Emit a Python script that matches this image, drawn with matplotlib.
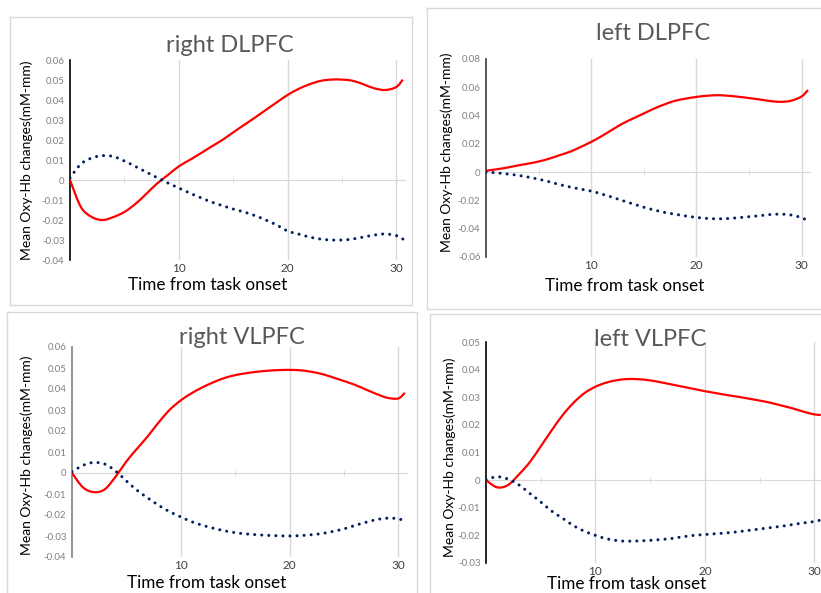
import matplotlib
matplotlib.use('Agg')
import matplotlib.pyplot as plt
from matplotlib.patches import PathPatch
from matplotlib.lines import Line2D
from matplotlib.path import Path

plt.rcParams['font.family'] = ['Lato', 'DejaVu Sans']

W, H = 821, 593

# tiempo (s) desde el inicio de la tarea
tiempo = [0, 1, 2, 3, 4, 5, 6, 7, 8, 9, 10, 11, 12, 13, 14, 15, 16, 17, 18, 19,
          20, 21, 22, 23, 24, 25, 26, 27, 28, 29, 30, 30.6]

titulos = ['right DLPFC', 'left DLPFC', 'right VLPFC', 'left VLPFC']

# Oxy-Hb (linea roja) y serie punteada (azul) por region
rojo_rdlpfc = [0, -0.0135, -0.0185, -0.0200, -0.0185, -0.0160, -0.0120, -0.0070, -0.0018, 0.0025,
               0.0068, 0.0100, 0.0133, 0.0167, 0.0200, 0.0238, 0.0275, 0.0312, 0.0350, 0.0388,
               0.0425, 0.0455, 0.0478, 0.0495, 0.0502, 0.0502, 0.0496, 0.0478, 0.0458, 0.0450,
               0.0465, 0.0502]
azul_rdlpfc = [0.001, 0.008, 0.011, 0.0122, 0.0117, 0.0095, 0.0068, 0.0040, 0.0012, -0.0015,
               -0.0040, -0.0065, -0.0088, -0.0110, -0.0128, -0.0145, -0.0160, -0.0178, -0.0200, -0.0225,
               -0.0255, -0.0270, -0.0285, -0.0295, -0.0300, -0.0300, -0.0295, -0.0285, -0.0275, -0.0270,
               -0.0278, -0.0295]

rojo_ldlpfc = [0.001, 0.002, 0.0032, 0.0047, 0.0060, 0.0075, 0.0095, 0.0120, 0.0145, 0.0178,
               0.0214, 0.0255, 0.0300, 0.0344, 0.0380, 0.0415, 0.0450, 0.0480, 0.0505, 0.0520,
               0.0532, 0.0540, 0.0544, 0.0540, 0.0533, 0.0524, 0.0514, 0.0503, 0.0497, 0.0505,
               0.0535, 0.0580]
azul_ldlpfc = [0, -0.0005, -0.0013, -0.0022, -0.0035, -0.0050, -0.0068, -0.0088, -0.0105, -0.0120,
               -0.0134, -0.0155, -0.0177, -0.0202, -0.0225, -0.0248, -0.0268, -0.0285, -0.0298, -0.0310,
               -0.0320, -0.0327, -0.0330, -0.0328, -0.0322, -0.0315, -0.0308, -0.0300, -0.0297, -0.0303,
               -0.0322, -0.0344]

rojo_rvlpfc = [0, -0.0068, -0.0091, -0.0078, -0.0018, 0.0055, 0.0117, 0.0177, 0.0243, 0.0302,
               0.0346, 0.0380, 0.0408, 0.0432, 0.0452, 0.0466, 0.0475, 0.0482, 0.0487, 0.0490,
               0.0491, 0.0489, 0.0482, 0.0471, 0.0455, 0.0438, 0.0420, 0.0398, 0.0376, 0.0358,
               0.0355, 0.0382]
azul_rvlpfc = [0.0006, 0.0036, 0.0050, 0.0043, 0.0010, -0.0038, -0.0083, -0.0120, -0.0155, -0.0185,
               -0.0209, -0.0232, -0.0249, -0.0263, -0.0275, -0.0284, -0.0290, -0.0294, -0.0297, -0.0299,
               -0.0300, -0.0298, -0.0294, -0.0288, -0.0278, -0.0266, -0.0250, -0.0235, -0.0222, -0.0215,
               -0.0218, -0.0230]

rojo_lvlpfc = [0, -0.0026, -0.0018, 0.0020, 0.0065, 0.0122, 0.0180, 0.0235, 0.0280, 0.0315,
               0.0338, 0.0353, 0.0362, 0.0366, 0.0365, 0.0361, 0.0354, 0.0346, 0.0338, 0.0330,
               0.0322, 0.0315, 0.0308, 0.0302, 0.0295, 0.0288, 0.0280, 0.0270, 0.0260, 0.0248,
               0.0238, 0.0236]
azul_lvlpfc = [0.0002, 0.0012, 0.0004, -0.0017, -0.0048, -0.0079, -0.0112, -0.0138, -0.0165, -0.0185,
               -0.0200, -0.0212, -0.0219, -0.0221, -0.0220, -0.0218, -0.0215, -0.0211, -0.0205, -0.0200,
               -0.0197, -0.0194, -0.0191, -0.0187, -0.0182, -0.0177, -0.0172, -0.0167, -0.0161, -0.0155,
               -0.0150, -0.0144]

yticks_rdlpfc = [-0.04, -0.03, -0.02, -0.01, 0, 0.01, 0.02, 0.03, 0.04, 0.05, 0.06]
yticks_ldlpfc = [-0.06, -0.04, -0.02, 0, 0.02, 0.04, 0.06, 0.08]
yticks_rvlpfc = [-0.04, -0.03, -0.02, -0.01, 0, 0.01, 0.02, 0.03, 0.04, 0.05, 0.06]
yticks_lvlpfc = [-0.03, -0.02, -0.01, 0, 0.01, 0.02, 0.03, 0.04, 0.05]
xticks = [10, 20, 30]
xticks_menores = [5, 15, 25]

rojos = [rojo_rdlpfc, rojo_ldlpfc, rojo_rvlpfc, rojo_lvlpfc]
azules = [azul_rdlpfc, azul_ldlpfc, azul_rvlpfc, azul_lvlpfc]
yticks = [yticks_rdlpfc, yticks_ldlpfc, yticks_rvlpfc, yticks_lvlpfc]

# posiciones en pixeles: (izq, arriba, der, abajo)
ejes_px = [(70, 60, 405, 260), (486, 59, 810, 257), (72, 347, 407, 557), (486, 342, 823, 563)]
titulo_px = [(230, 45), (653, 33), (242, 337), (650, 340)]
xlabel_px = [(208, 285), (625, 286), (207, 583), (627, 584)]
ylabel_px = [(27, 160), (447, 152), (27, 455), (450, 457)]
color_eje_y = ['black', '#3a3a3a', '#7f7f7f', 'black']

# marcos: lados visibles de cada caja, cada uno como segmento
marcos_px = [
    [((10, 17), (412, 17)), ((412, 17), (412, 305)), ((10, 305), (412, 305)), ((10, 17), (10, 305))],
    [((427, 8), (W - 1, 8)), ((427, 8), (427, 309)), ((427, 309), (W - 1, 309))],
    [((7, 312), (417, 312)), ((7, 312), (7, H)), ((417, 312), (417, H))],
    [((430, 314), (W - 1, 314)), ((430, 314), (430, H))],
]


def px_rect(l, t, r, b):
    return [l / W, 1 - b / H, (r - l) / W, (b - t) / H]


# linea suavizada como en Excel (Bezier por los puntos)
def curva_suave(x, y):
    n = len(x)
    verts = [(x[0], y[0])]
    codes = [Path.MOVETO]
    for i in range(n - 1):
        a = max(i - 1, 0)
        c = min(i + 2, n - 1)
        c1 = (x[i] + (x[i + 1] - x[a]) / 6, y[i] + (y[i + 1] - y[a]) / 6)
        c2 = (x[i + 1] - (x[c] - x[i]) / 6, y[i + 1] - (y[c] - y[i]) / 6)
        verts += [c1, c2, (x[i + 1], y[i + 1])]
        codes += [Path.CURVE4] * 3
    return Path(verts, codes)


fig = plt.figure(figsize=(W / 100, H / 100), dpi=100)

for k in range(4):
    for (x0, y0), (x1, y1) in marcos_px[k]:
        fig.add_artist(Line2D([x0 / W, x1 / W], [1 - y0 / H, 1 - y1 / H],
                              transform=fig.transFigure, color='#d9d9d9', linewidth=1,
                              clip_on=False))

    ax = fig.add_axes(px_rect(*ejes_px[k]))
    ax.set_axisbelow(True)
    ax.add_patch(PathPatch(curva_suave(tiempo, rojos[k]), fill=False,
                           edgecolor='#ff0000', linewidth=1.6, zorder=3))
    ax.add_patch(PathPatch(curva_suave(tiempo, azules[k]), fill=False,
                           edgecolor='#002060', linewidth=2.2, linestyle=(0, (0.01, 2.3)),
                           capstyle='round', zorder=3))

    ax.set_xlim(0, 30.8)
    ax.set_ylim(yticks[k][0], yticks[k][-1])
    ax.set_xticks(xticks)
    ax.set_yticks(yticks[k])
    ax.set_yticklabels(['%g' % round(v, 2) for v in yticks[k]])
    ax.grid(axis='x', color='#d9d9d9', linewidth=1)
    ax.tick_params(axis='y', length=0, labelsize=7, labelcolor='#808080', pad=4)
    ax.tick_params(axis='x', length=0, labelsize=8.5, labelcolor='#404040', pad=2)

    for lado in ['top', 'right', 'bottom']:
        ax.spines[lado].set_visible(False)
    ax.spines['left'].set_color(color_eje_y[k])
    ax.spines['left'].set_linewidth(1.2)

    # eje horizontal en cero con marcas menores
    ylo, yhi = yticks[k][0], yticks[k][-1]
    sec = ax.secondary_xaxis((0 - ylo) / (yhi - ylo))
    sec.spines['bottom'].set_color('#d9d9d9')
    sec.set_xticks(xticks)
    sec.set_xticklabels([])
    sec.set_xticks(xticks_menores, minor=True)
    sec.tick_params(which='major', length=0)
    sec.tick_params(which='minor', length=4, direction='inout', color='#d9d9d9')

    fig.text(titulo_px[k][0] / W, 1 - titulo_px[k][1] / H, titulos[k],
             ha='center', va='center', fontsize=17, color='#595959')
    fig.text(xlabel_px[k][0] / W, 1 - xlabel_px[k][1] / H, 'Time from task onset',
             ha='center', va='center', fontsize=12.3, color='black')
    fig.text(ylabel_px[k][0] / W, 1 - ylabel_px[k][1] / H, 'Mean Oxy-Hb changes(mM-mm)',
             ha='center', va='center', rotation=90, fontsize=10, color='black')

plt.savefig('out.png', dpi=100)
plt.close()
